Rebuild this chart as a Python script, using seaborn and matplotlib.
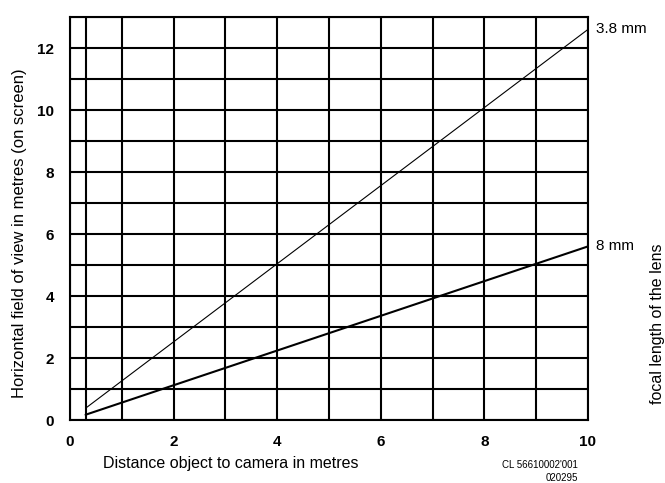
import matplotlib
matplotlib.use("Agg")
import matplotlib.pyplot as plt
import seaborn as sns
import pandas as pd

sns.set_style("white")
plt.rcParams["font.family"] = ["Liberation Sans", "DejaVu Sans"]
plt.rcParams["text.color"] = "black"
plt.rcParams["xtick.color"] = "black"
plt.rcParams["ytick.color"] = "black"

# Donnees
distance = [0.3, 10]          # distance objet-camera (m)
fov_38mm = [0.38, 12.6]       # champ horizontal, objectif 3.8 mm
fov_8mm = [0.17, 5.6]         # champ horizontal, objectif 8 mm
lens_labels = ["3.8 mm", "8 mm"]
x_ticks = list(range(0, 11))
y_ticks = list(range(0, 14))
x_ticklabels = ["0", "", "2", "", "4", "", "6", "", "8", "", "10"]
y_ticklabels = [str(v) if v % 2 == 0 and v <= 12 else "" for v in y_ticks]

df = pd.DataFrame({
    "distance": distance * 2,
    "fov": fov_38mm + fov_8mm,
    "lens": [lens_labels[0]] * 2 + [lens_labels[1]] * 2,
})

fig = plt.figure(figsize=(6.65, 4.83), dpi=100)
ax = fig.add_axes([0.1053, 0.1304, 0.7789, 0.8344])

sns.lineplot(data=df, x="distance", y="fov", hue="lens", size="lens",
             sizes={lens_labels[0]: 0.8, lens_labels[1]: 1.5},
             palette={lens_labels[0]: "black", lens_labels[1]: "black"},
             legend=False, ax=ax, zorder=3)

ax.set_xlim(0, 10)
ax.set_ylim(0, 13)
ax.set_xticks(x_ticks)
ax.set_xticklabels(x_ticklabels, fontsize=11, fontweight="bold")
ax.set_yticks(y_ticks)
ax.set_yticklabels(y_ticklabels, fontsize=11, fontweight="bold")
ax.tick_params(axis="x", direction="out", length=4, width=1.5, color="black", pad=7)
ax.tick_params(axis="y", direction="out", length=6.5, width=1.5, color="black", pad=5)
ax.grid(True, color="black", linewidth=1.5)
ax.axvline(distance[0], color="black", linewidth=1.5, zorder=1)
for s in ax.spines.values():
    s.set_color("black")
    s.set_linewidth(1.5)

ax.set_xlabel("")
ax.set_ylabel("")
fig.text(0.347, 0.041, "Distance object to camera in metres",
         ha="center", va="center", fontsize=11.5)
fig.text(0.030, 0.517, "Horizontal field of view in metres (on screen)",
         rotation=90, ha="center", va="center", fontsize=12)

# etiquettes des objectifs a droite
ax.text(1.016, fov_38mm[1], lens_labels[0], transform=ax.get_yaxis_transform(),
        ha="left", va="center", fontsize=11)
ax.text(1.016, fov_8mm[1], lens_labels[1], transform=ax.get_yaxis_transform(),
        ha="left", va="center", fontsize=11)
fig.text(0.988, 0.329, "focal length of the lens", rotation=90,
         ha="center", va="center", fontsize=11.5)

fig.text(0.869, 0.037, "CL 56610002'001", ha="right", va="center", fontsize=7)
fig.text(0.869, 0.011, "020295", ha="right", va="center", fontsize=7)

plt.savefig("out.png", dpi=100)
plt.close()
